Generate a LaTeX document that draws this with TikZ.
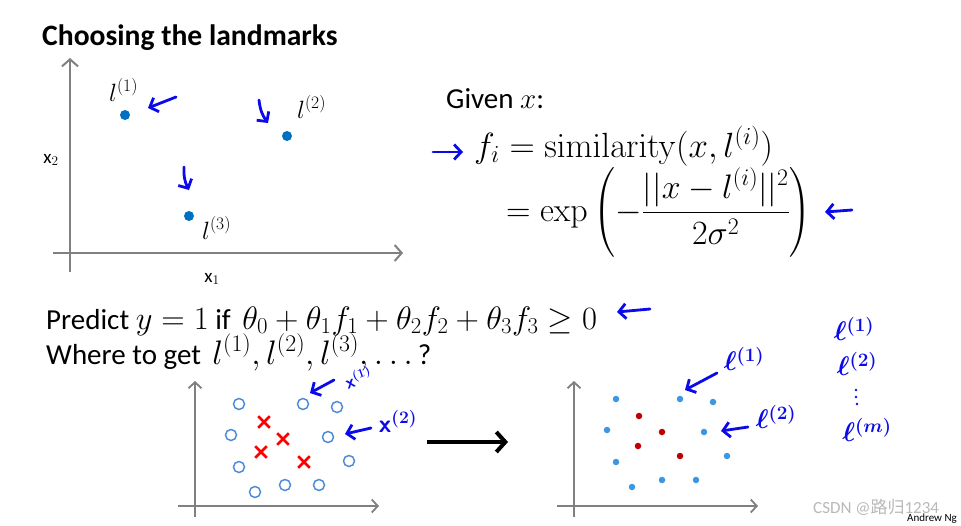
\RequirePackage{fix-cm}
\documentclass[tikz,border=0pt]{standalone}
\usepackage{amsmath}
\usepackage[no-math]{fontspec}
\setmainfont{Carlito}
\newfontfamily\cjkfont{Noto Sans CJK SC}
\usetikzlibrary{arrows.meta,shapes.misc}
\definecolor{axisgray}{RGB}{128,128,128}
\definecolor{ptblue}{RGB}{0,112,192}
\definecolor{ringblue}{RGB}{80,140,215}
\definecolor{dotblue}{RGB}{60,150,225}
\definecolor{darkred}{RGB}{192,0,0}
\definecolor{penblue}{RGB}{10,10,235}
\definecolor{wmgray}{RGB}{185,185,185}
\tikzset{
  axisline/.style={draw=axisgray, line width=2pt, -{Straight Barb[length=7pt,width=16pt,line width=2pt]}},
  axissmall/.style={draw=axisgray, line width=1.8pt, -{Straight Barb[length=6pt,width=13pt,line width=1.8pt]}},
  pen/.style={draw=penblue, line width=2.8pt, line cap=round, -{Straight Barb[length=7pt,width=15pt,line width=2.8pt]}},
  lmark/.style={circle, fill=ptblue, inner sep=0pt, minimum size=10pt},
  ring/.style={circle, draw=ringblue, line width=1.5pt, minimum size=11pt, inner sep=0pt},
  xmark/.style={cross out, draw=red, line width=2.6pt, minimum size=9pt, inner sep=0pt},
  bdot/.style={circle, fill=dotblue, inner sep=0pt, minimum size=6.5pt},
  rdot/.style={circle, fill=darkred, inner sep=0pt, minimum size=6.5pt},
  pdot/.style={circle, fill=penblue, inner sep=0pt, minimum size=2.8pt},
  txt/.style={inner sep=0pt, anchor=base west},
  handtxt/.style={inner sep=0pt, text=penblue, font=\fontsize{27}{30}\selectfont\boldmath},
}
\begin{document}
\begin{tikzpicture}[x=1pt,y=-1pt]
\useasboundingbox (0,0) rectangle (961,525);
\fill[white] (0,0) rectangle (961,525);

% title
\node[txt, font=\fontsize{29.6}{34}\selectfont\bfseries] (title) at (42,45) {Choosing the landmarks};

% top plot axes
\coordinate (ta0) at (70,272);
\coordinate (ta1) at (70,58);
\coordinate (tb0) at (53,253);
\coordinate (tb1) at (403,253);
\draw[axisline] (ta0) -- (ta1);
\draw[axisline] (tb0) -- (tb1);
\node[font=\fontsize{19}{22}\selectfont] (x2lab) at (51,160) {x$_2$};
\node[font=\fontsize{19}{22}\selectfont] (x1lab) at (212,279) {x$_1$};

% landmarks
\node[lmark] (l1) at (125,115) {};
\node[lmark] (l2) at (287,136) {};
\node[lmark] (l3) at (189,216) {};
\node[txt, font=\fontsize{25}{28}\selectfont] (l1lab) at (109,101) {$l^{(1)}$};
\node[txt, font=\fontsize{25}{28}\selectfont] (l2lab) at (297,118) {$l^{(2)}$};
\node[txt, font=\fontsize{25}{28}\selectfont] (l3lab) at (202,239) {$l^{(3)}$};

\coordinate (pa0) at (176,97);  \coordinate (pa1) at (148,108);
\coordinate (pb0) at (259,100); \coordinate (pb1) at (268,123);
\coordinate (pc0) at (184,167); \coordinate (pc1) at (189,190);
\draw[pen] (pa0) -- (pa1);
\draw[pen] (pb0) to[bend right=15] (pb1);
\draw[pen] (pc0) to[bend right=15] (pc1);

% formulas
\node[txt, font=\fontsize{29}{33}\selectfont] (given) at (446,108) {Given $x$:};
\node[txt, font=\fontsize{35}{40}\selectfont] (fi) at (474,157) {$f_i = \mathrm{similarity}(x, l^{(i)})$};
\node[txt, font=\fontsize{34}{38}\selectfont] (ex) at (506,221) {$= \exp\left(-\dfrac{||x-l^{(i)}||^2}{2\sigma^2}\right)$};
\coordinate (pd0) at (433,152); \coordinate (pd1) at (463,152);
\coordinate (pe0) at (852,210); \coordinate (pe1) at (825,212);
\draw[pen] (pd0) -- (pd1);
\draw[pen] (pe0) -- (pe1);

\node[txt, font=\fontsize{29}{34}\selectfont] (pred) at (46,329)
  {Predict {\fontsize{32.5}{38}\selectfont$y=1$} if\, {\fontsize{32.5}{38}\selectfont$\theta_0+\theta_1 f_1+\theta_2 f_2+\theta_3 f_3\geq 0$}};
\node[txt, font=\fontsize{29}{34}\selectfont] (where) at (46,364)
  {Where to get\, {\fontsize{34}{38}\selectfont$l^{(1)}, l^{(2)}, l^{(3)}, \ldots$}\,?};
\coordinate (pf0) at (650,309); \coordinate (pf1) at (617,312);
\draw[pen] (pf0) -- (pf1);

% bottom left plot
\coordinate (ba0) at (195,517); \coordinate (ba1) at (195,381);
\coordinate (bb0) at (178,506); \coordinate (bb1) at (379,506);
\draw[axissmall] (ba0) -- (ba1);
\draw[axissmall] (bb0) -- (bb1);
\foreach \n/\x/\y in {1/239/404, 2/303/404, 3/337/407, 4/231/435, 5/328/437, 6/239/467, 7/349/461, 8/255/492, 9/285/485, 10/319/485}
  \node[ring] (r\n) at (\x,\y) {};
\foreach \n/\x/\y in {1/264/422, 2/283/439, 3/261/452, 4/304/462}
  \node[xmark] (c\n) at (\x,\y) {};
\coordinate (pg0) at (334,380); \coordinate (pg1) at (310,393);
\coordinate (ph0) at (371,428); \coordinate (ph1) at (345,434);
\draw[pen] (pg0) -- (pg1);
\draw[pen] (ph0) -- (ph1);
\node[handtxt, font=\fontsize{18}{20}\selectfont\boldmath, rotate=20] (xi1) at (358,377) {$\mathsf{x}^{(1)}$};
\node[handtxt, font=\fontsize{25}{28}\selectfont\boldmath] (xi2) at (398,421) {$\mathsf{x}^{(2)}$};

% big arrow
\coordinate (ka0) at (427,442); \coordinate (ka1) at (508,442);
\draw[line width=4pt, -{Straight Barb[length=9pt,width=20pt,line width=4pt]}] (ka0) -- (ka1);

% bottom right plot
\coordinate (ca0) at (574,517); \coordinate (ca1) at (574,381);
\coordinate (cb0) at (557,506); \coordinate (cb1) at (758,506);
\draw[axissmall] (ca0) -- (ca1);
\draw[axissmall] (cb0) -- (cb1);
\foreach \n/\x/\y in {1/616/399, 2/680/399, 3/713/402, 4/607/430, 5/704/432, 6/616/462, 7/727/456, 8/632/487, 9/662/480, 10/696/480}
  \node[bdot] (d\n) at (\x,\y) {};
\foreach \n/\x/\y in {1/639/416, 2/662/432, 3/638/446, 4/680/456}
  \node[rdot] (e\n) at (\x,\y) {};
\coordinate (pi0) at (717,373); \coordinate (pi1) at (685,390);
\coordinate (pj0) at (748,427); \coordinate (pj1) at (721,431);
\draw[pen] (pi0) -- (pi1);
\draw[pen] (pj0) -- (pj1);
\node[handtxt] (hl1) at (744,359) {$\ell^{(1)}$};
\node[handtxt] (hl2) at (776,417) {$\ell^{(2)}$};
\node[handtxt] (rl1) at (854,329) {$\ell^{(1)}$};
\node[handtxt] (rl2) at (857,364) {$\ell^{(2)}$};
\node[pdot] (v1) at (856,390) {};
\node[pdot] (v2) at (856,397) {};
\node[pdot] (v3) at (857,404) {};
\node[handtxt] (rlm) at (867,430) {$\ell^{(m)}$};

% watermark and credit
\node[anchor=base west, inner sep=0pt, text=wmgray, font=\fontsize{17}{19}\selectfont] (wm) at (813,513) {CSDN @{\cjkfont 路归}1234};
\node[anchor=base east, inner sep=0pt, font=\fontsize{11}{13}\selectfont] (ng) at (957,521) {Andrew Ng};
\end{tikzpicture}
\end{document}
